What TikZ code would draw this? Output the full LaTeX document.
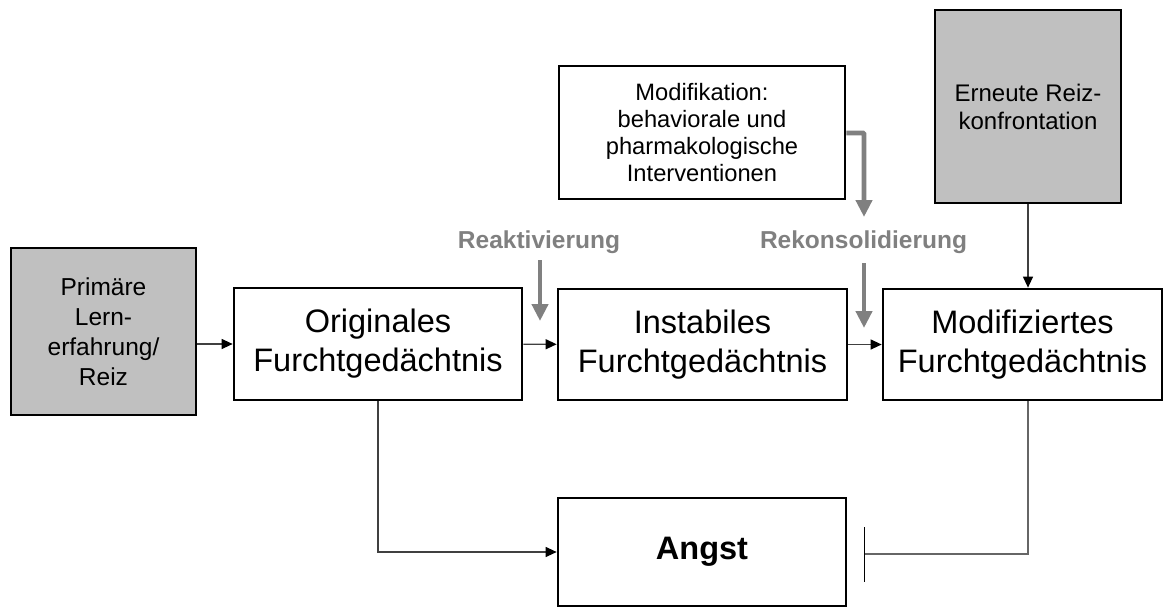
\documentclass[tikz,border=0pt]{standalone}
\usepackage{fontspec}
\setmainfont{Liberation Sans}
\usepackage{tikz}
\usetikzlibrary{arrows.meta}

\definecolor{boxgray}{HTML}{C0C0C0}
\definecolor{arrgray}{HTML}{808080}

\tikzset{
  box/.style={draw, line width=2.7pt, align=center, inner sep=0pt},
  big/.style={font=\fontsize{32.5}{39}\selectfont},
  small/.style={font=\fontsize{24.5}{30}\selectfont},
  conn/.style={draw=black!75, line width=1.2pt, -{Triangle[length=11pt,width=10pt,color=black]}},
  stopline/.style={draw=black!60, line width=1.3pt, -{Bar[width=55pt,color=black]}},
  thick arrow/.style={draw=arrgray, line width=4.7pt, -{Triangle[length=17pt,width=16pt]}},
  steplabel/.style={text=arrgray, font=\fontsize{24.5}{30}\selectfont\bfseries}
}

\begin{document}
\begin{tikzpicture}[x=1pt,y=-1pt]
        \useasboundingbox (0,0) rectangle (1166,610);

        \node[box,small,fill=boxgray,minimum width=185,minimum height=167] (prim) at (103.5,331.5) {Primäre\\Lern-\\erfahrung/\\Reiz};
        \node[box,big,minimum width=288,minimum height=112] (orig) at (378,344) {Originales\\Furchtgedächtnis};
        \node[box,big,minimum width=289,minimum height=111] (inst) at (702.5,344.5) {Instabiles\\Furchtgedächtnis};
        \node[box,big,minimum width=279,minimum height=111] (modi) at (1022.5,344.5) {Modifiziertes\\Furchtgedächtnis};
        \node[box,font=\fontsize{23.7}{27}\selectfont,minimum width=286,minimum height=133] (interv) at (702,132.5) {Modifikation:\\behaviorale und\\pharmakologische\\Interventionen};
        \node[box,font=\fontsize{24}{28}\selectfont,fill=boxgray,minimum width=186,minimum height=193] (reiz) at (1028,106.5) {Erneute Reiz-\\konfrontation};
        \node[box,big,font=\fontsize{32.5}{39}\selectfont\bfseries,minimum width=288,minimum height=108] (angst) at (702,552) {Angst};

        \node[steplabel] (reak) at (539,242) {Reaktivierung};
        \node[steplabel] (rekon) at (863.5,242) {Rekonsolidierung};

        \coordinate (ra1) at (540,260);
        \coordinate (ra2) at (540,321);
        \coordinate (rk0) at (864,217);
        \coordinate (rk1) at (864,263);
        \coordinate (rk2) at (864,328);
        \coordinate (block) at (864,554);

        % main chain
        \draw[conn] (prim.east |- orig.west) -- (orig.west);
        \draw[conn] (orig) -- (inst);
        \draw[conn] (inst) -- (modi);
        \draw[conn] (reiz.south) -- (reiz.south |- modi.north);

        % effect on fear
        \draw[conn] (orig.south) |- (angst.west);
        \draw[stopline] (reiz.south |- modi.south) |- (block);

        % interventions
        \draw[thick arrow] (ra1) -- (ra2);
        \draw[thick arrow, rounded corners=1pt] (interv.east |- 0,133) -| (rk0);
        \draw[thick arrow] (rk1) -- (rk2);
\end{tikzpicture}
\end{document}
